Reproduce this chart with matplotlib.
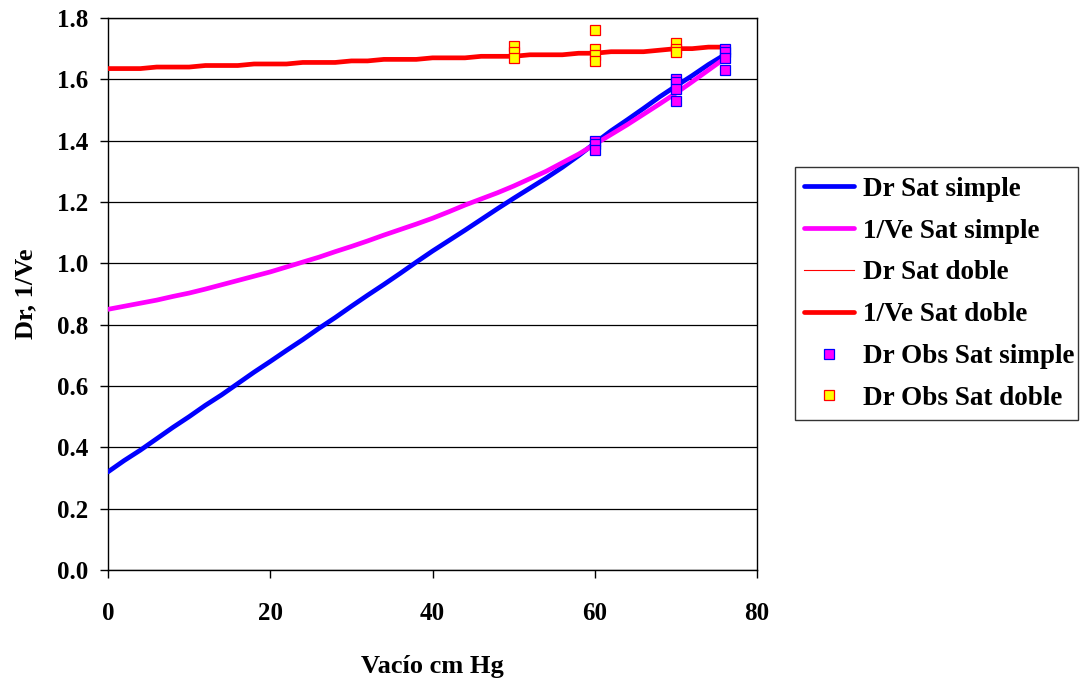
import numpy as np
import matplotlib
matplotlib.use('Agg')
import matplotlib.pyplot as plt
from matplotlib.ticker import FormatStrFormatter

# vacuum (cm Hg) for the computed curves
vacio = [0, 2, 4, 6, 8, 10, 12, 14, 16, 18, 20, 22, 24, 26, 28, 30, 32, 34, 36, 38,
         40, 42, 44, 46, 48, 50, 52, 54, 56, 58, 60, 62, 64, 66, 68, 70, 72, 74, 76]

dr_simple = [0.320, 0.357, 0.391, 0.428, 0.465, 0.500, 0.537, 0.571, 0.608, 0.645,
             0.680, 0.716, 0.751, 0.788, 0.823, 0.860, 0.896, 0.931, 0.967, 1.004,
             1.040, 1.074, 1.108, 1.143, 1.178, 1.212, 1.245, 1.278, 1.313, 1.351,
             1.392, 1.432, 1.468, 1.505, 1.543, 1.578, 1.612, 1.648, 1.680]

ve_simple = [0.850, 0.860, 0.870, 0.880, 0.892, 0.903, 0.916, 0.930, 0.944, 0.958,
             0.972, 0.988, 1.004, 1.020, 1.038, 1.055, 1.073, 1.092, 1.110, 1.128,
             1.147, 1.168, 1.190, 1.210, 1.230, 1.252, 1.276, 1.300, 1.328, 1.356,
             1.388, 1.420, 1.452, 1.486, 1.520, 1.555, 1.592, 1.630, 1.668]

dr_doble = [1.635, 1.635, 1.635, 1.640, 1.640, 1.640, 1.645, 1.645, 1.645, 1.650,
            1.650, 1.650, 1.655, 1.655, 1.655, 1.660, 1.660, 1.665, 1.665, 1.665,
            1.670, 1.670, 1.670, 1.675, 1.675, 1.675, 1.680, 1.680, 1.680, 1.685,
            1.685, 1.690, 1.690, 1.690, 1.695, 1.700, 1.700, 1.705, 1.705]

ve_doble = [1.635, 1.635, 1.635, 1.640, 1.640, 1.640, 1.645, 1.645, 1.645, 1.650,
            1.650, 1.650, 1.655, 1.655, 1.655, 1.660, 1.660, 1.665, 1.665, 1.665,
            1.670, 1.670, 1.670, 1.675, 1.675, 1.675, 1.680, 1.680, 1.680, 1.685,
            1.685, 1.690, 1.690, 1.690, 1.695, 1.700, 1.700, 1.705, 1.705]

# observed points
obs_simple_x = [60, 60, 60, 70, 70, 70, 70, 76, 76, 76, 76]
obs_simple_y = [1.40, 1.39, 1.37, 1.60, 1.59, 1.57, 1.53, 1.70, 1.69, 1.67, 1.63]

obs_doble_x = [50, 50, 50, 60, 60, 60, 60, 70, 70, 70]
obs_doble_y = [1.71, 1.69, 1.67, 1.76, 1.70, 1.68, 1.66, 1.72, 1.70, 1.69]

plt.rcParams['font.family'] = ['Liberation Serif', 'DejaVu Serif']
plt.rcParams['font.weight'] = 'bold'

fig = plt.figure(figsize=(10.8, 6.81), dpi=100)
ax = fig.add_axes([0.1, 0.163, 0.601, 0.8106])

ax.plot(vacio, dr_simple, color='#0000FF', lw=3.4, label='Dr Sat simple', zorder=3, solid_capstyle='round')
ax.plot(vacio, ve_simple, color='#FF00FF', lw=3.4, label='1/Ve Sat simple', zorder=3, solid_capstyle='round')
ax.plot(vacio, dr_doble, color='#FF0000', lw=0.8, label='Dr Sat doble', zorder=3)
ax.plot(vacio, ve_doble, color='#FF0000', lw=3.4, label='1/Ve Sat doble', zorder=3, solid_capstyle='round')
ax.plot(obs_simple_x, obs_simple_y, ls='none', marker='s', ms=6.5, mfc='#FF00FF', mec='#0000FF',
        mew=0.9, label='Dr Obs Sat simple', zorder=4)
ax.plot(obs_doble_x, obs_doble_y, ls='none', marker='s', ms=6.5, mfc='#FFFF00', mec='#FF0000',
        mew=0.9, label='Dr Obs Sat doble', zorder=4)

ax.set_xlim(0, 80)
ax.set_ylim(0, 1.8)
ax.set_xticks([0, 20, 40, 60, 80])
ax.set_yticks(np.arange(0, 1.81, 0.2))
ax.yaxis.set_major_formatter(FormatStrFormatter('%.1f'))
ax.yaxis.grid(True, color='black', lw=0.9)
ax.set_axisbelow(True)
for s in ax.spines.values():
    s.set_color('black')
    s.set_linewidth(1.0)
ax.tick_params(axis='both', direction='out', length=6, width=1, labelsize=18)
ax.tick_params(axis='x', pad=17)
ax.tick_params(axis='y', pad=8)

ax.set_xlabel('Vacío cm Hg', fontsize=19, fontweight='bold', labelpad=22)
ax.set_ylabel('Dr, 1/Ve', fontsize=19, fontweight='bold', labelpad=14)

leg = ax.legend(loc='center left', bbox_to_anchor=(0.736, 0.382, 0.262, 0.373),
                bbox_transform=fig.transFigure, mode='expand', fontsize=19.5,
                frameon=True, fancybox=False, edgecolor='black', handlelength=1.85,
                handletextpad=0.3, labelspacing=0.62, borderaxespad=0, borderpad=0.35,
                numpoints=1)
leg.get_frame().set_linewidth(1.0)

fig.savefig('out.png', dpi=100)
